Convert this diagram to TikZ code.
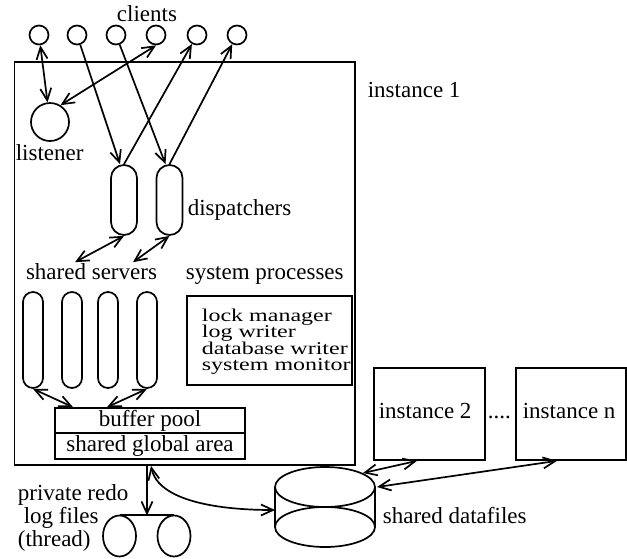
\documentclass[tikz,border=0pt]{standalone}
\usepackage{fontspec}
\setmainfont{Liberation Serif}
\usepackage{graphicx}
\usetikzlibrary{arrows.meta,shapes.geometric}
\begin{document}
\begin{tikzpicture}[x=1pt,y=-1pt,line width=1.7pt,
  >={Straight Barb[length=12pt,width=11pt]},
  txt/.style={inner sep=0pt,font=\fontsize{23}{25}\selectfont},
  client/.style={circle,draw,minimum size=19pt,inner sep=0pt},
  boxnode/.style={draw,rectangle,inner sep=0pt,font=\fontsize{23}{25}\selectfont},
  dispcap/.style={draw,rectangle,rounded corners=13pt,minimum width=26pt,minimum height=70pt,inner sep=0pt},
  servcap/.style={draw,rectangle,rounded corners=10pt,minimum width=20pt,minimum height=96pt,inner sep=0pt},
  redofile/.style={draw,ellipse,minimum width=33pt,minimum height=41pt,inner sep=0pt}]
\useasboundingbox (0,0) rectangle (627,558);

% instance 1 box
\node[boxnode,minimum width=340.5pt,minimum height=403pt] (inst1) at (184.75,263.5) {};
\node[txt,anchor=base west] (inst1lbl) at (367,97) {instance 1};

% clients
\node[txt,anchor=base] (clientslbl) at (147,21) {clients};
\foreach \i/\x in {1/39,2/77,3/116,4/156,5/197,6/237}
  \node[client] (c\i) at (\x,35) {};

% listener
\node[circle,draw,minimum size=38pt,inner sep=0pt] (lis) at (50,122) {};
\node[txt,anchor=base west] (lislbl) at (15,160) {listener};

% dispatchers
\node[dispcap] (d1) at (124,200) {};
\node[dispcap] (d2) at (169.5,200) {};
\node[txt,anchor=base west] (displbl) at (187,215) {dispatchers};

% shared servers
\node[txt,anchor=base] (ss) at (91.5,279) {shared servers};
\node[servcap] (s1) at (33,340) {};
\node[servcap] (s2) at (72,340) {};
\node[servcap] (s3) at (108,340) {};
\node[servcap] (s4) at (147,340) {};

% system processes
\node[txt,anchor=base west] (sp) at (185,279) {system processes};
\node[boxnode,minimum width=165pt,minimum height=89pt] (sys) at (269.5,340.5) {};
\node[inner sep=0pt,anchor=base west] (syslines) at (201,321) {\scalebox{1}[0.75]{\begin{minipage}[t]{160pt}\fontsize{24}{22.2}\selectfont\lineskiplimit=-100pt\relax
lock manager\\log writer\\database writer\\system monitor\end{minipage}}};

% buffer pool / shared global area
\node[boxnode,minimum width=190pt,minimum height=25pt] (bp) at (150,420.5) {buffer pool};
\node[boxnode,minimum width=190pt,minimum height=26pt] (sga) at (150,446) {shared global area};

% redo log files
\node[redofile] (e1) at (119.5,536) {};
\node[redofile] (e2) at (174,536) {};
\coordinate (redo) at (147,515.5);
\node[txt,anchor=base west] (redo1) at (17,500) {private redo};
\node[txt,anchor=base west] (redo2) at (23,523) {log files};
\node[txt,anchor=base west] (redo3) at (17,546) {(thread)};

% other instances
\node[boxnode,minimum width=111pt,minimum height=92pt] (inst2) at (429.5,414) {};
\node[txt,anchor=base west] (inst2lbl) at (378,418) {instance 2};
\node[txt,anchor=base west] (dots) at (487,418) {....};
\node[boxnode,minimum width=110pt,minimum height=92pt] (instn) at (571,414) {};
\node[txt,anchor=base west] (instnlbl) at (522,418) {instance n};

% shared datafiles cylinder
\draw (325,487) ellipse [x radius=50pt,y radius=20pt];
\draw (325,527) ellipse [x radius=50pt,y radius=20pt];
\draw (275,487) -- (275,527);
\draw (375,487) -- (375,527);
\coordinate (cylW) at (275,510);
\coordinate (cylT) at (363,473);
\coordinate (cylE) at (377,487);
\node[txt,anchor=base west] (sdlbl) at (382,523) {shared datafiles};

% connectors
\draw[<->] (c1) -- (lis);
\draw[<->] (lis.58) -- (c4.south);
\draw[->] (c2) -- ([xshift=-4pt]d1.north);
\draw[->] (c3) -- ([xshift=-4pt]d2.north);
\draw[->] (d1.north) -- (c5);
\draw[->] (d2.north) -- (c6);
\draw[<->] (d1.south) -- ([xshift=-16.5pt]ss.north);
\draw[<->] (d2.south) -- ([xshift=41.5pt]ss.north);
\draw[<->] (s1.south) -- ([xshift=-77pt]bp.north);
\draw[<->] (s4.south) -- ([xshift=-43pt]bp.north);
\draw[->] ([xshift=-37.75pt]inst1.south) -- (redo);
\draw (e1.north) -- (e2.north);
\draw[<->] ([xshift=-33.75pt]inst1.south) .. controls (158,500) and (215,510) .. (cylW);
\draw[<->] (cylT) -- ([xshift=-12.5pt]inst2.south);
\draw[<->] (cylE) -- ([xshift=-14pt]instn.south);
\end{tikzpicture}
\end{document}
